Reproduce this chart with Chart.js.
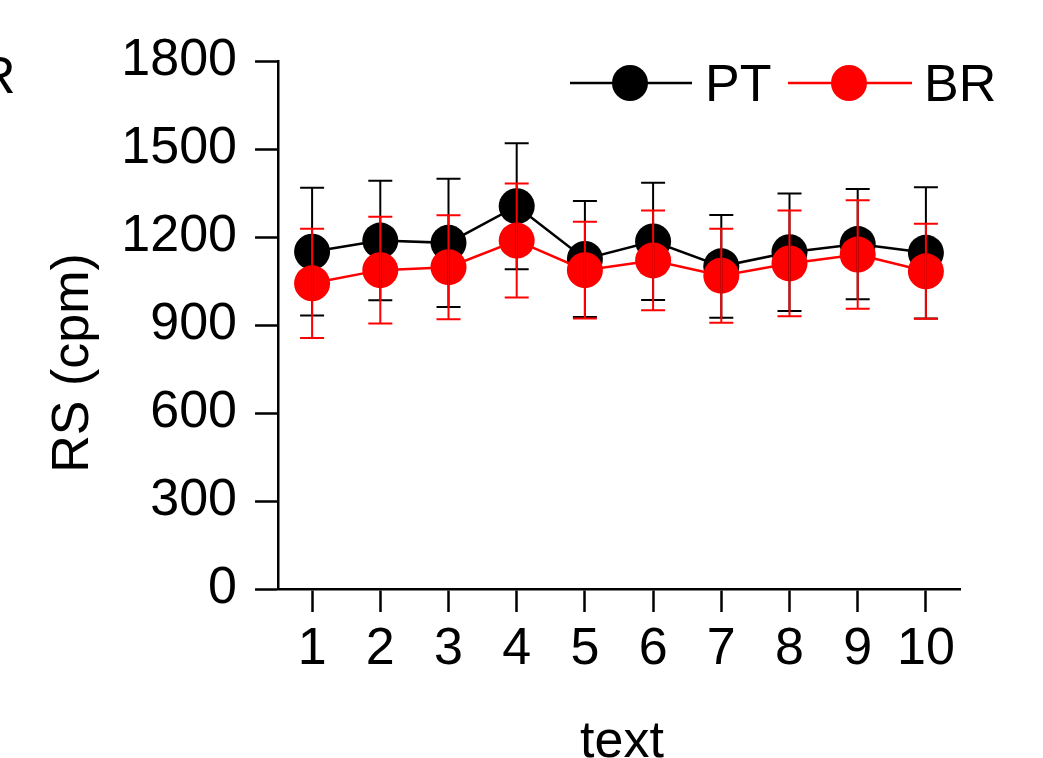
<!DOCTYPE html>
<html>
<head>
<meta charset="utf-8">
<script src="https://cdn.jsdelivr.net/npm/chart.js@4"></script>
<style>
  html, body { margin: 0; padding: 0; background: #fff; }
  #wrap { position: relative; width: 1043px; height: 758px; overflow: hidden; }
</style>
</head>
<body>
<div id="wrap"><canvas id="myChart" width="1043" height="758"></canvas></div>
<script>
const ctx = document.getElementById('myChart');

// x categories and y tick values
const categories = ['1', '2', '3', '4', '5', '6', '7', '8', '9', '10'];
const yTicks = [0, 300, 600, 900, 1200, 1500, 1800];

// PT series: mean and error
const ptMean = [1150, 1188, 1180, 1305, 1125, 1185, 1100, 1148, 1176, 1146];
const ptErr = [218, 204, 219, 215, 198, 200, 175, 200, 188, 224];

// BR series: mean and error
const brMean = [1042, 1087, 1097, 1188, 1087, 1120, 1068, 1110, 1140, 1083];
const brErr = [186, 182, 177, 194, 165, 170, 160, 180, 185, 162];

const FONT = '"Liberation Sans", Arial, sans-serif';
const FS = 52;

// error bars drawn from the y scale of the chart
const errorBars = {
    id: 'errorBars',
    afterDatasetsDraw(chart) {
        const c = chart.ctx;
        const y = chart.scales.y;
        chart.data.datasets.forEach(function(ds, i) {
            const meta = chart.getDatasetMeta(i);
            c.save();
            c.strokeStyle = ds.borderColor;
            c.lineWidth = 2;
            meta.data.forEach(function(pt, j) {
                const top = y.getPixelForValue(ds.data[j] + ds.errors[j]);
                const bot = y.getPixelForValue(ds.data[j] - ds.errors[j]);
                c.beginPath();
                c.moveTo(pt.x, top); c.lineTo(pt.x, bot);
                c.moveTo(pt.x - 12, top); c.lineTo(pt.x + 12, top);
                c.moveTo(pt.x - 12, bot); c.lineTo(pt.x + 12, bot);
                c.stroke();
            });
            c.restore();
        });
    }
};

// titles, legend and the stray letter from the neighbouring panel
const extras = {
    id: 'extras',
    afterDraw(chart) {
        const c = chart.ctx;
        c.save();
        c.fillStyle = '#000';
        c.font = FS + 'px ' + FONT;
        c.textBaseline = 'alphabetic';

        c.textAlign = 'left';
        c.fillText('R', -22, 93);

        c.textAlign = 'center';
        c.fillText('text', 622, 757);

        c.save();
        c.translate(88, 363);
        c.rotate(-Math.PI / 2);
        c.fillText('RS (cpm)', 0, 0);
        c.restore();

        // legend
        const items = [
            {ds: chart.data.datasets[0], x0: 570, x1: 692, cx: 630, tx: 705},
            {ds: chart.data.datasets[1], x0: 788, x1: 912, cx: 849, tx: 924}
        ];
        const ly = 83;
        items.forEach(function(it) {
            c.strokeStyle = it.ds.borderColor;
            c.lineWidth = 2.5;
            c.beginPath();
            c.moveTo(it.x0, ly); c.lineTo(it.x1, ly);
            c.stroke();
            c.fillStyle = it.ds.pointBackgroundColor;
            c.beginPath();
            c.arc(it.cx, ly, 18, 0, Math.PI * 2);
            c.fill();
            c.fillStyle = '#000';
            c.textAlign = 'left';
            c.fillText(it.ds.label, it.tx, 101);
        });
        c.restore();
    }
};

new Chart(ctx, {
    type: 'line',
    data: {
        labels: categories,
        datasets: [
            {
                label: 'PT',
                data: ptMean,
                errors: ptErr,
                borderColor: '#000000',
                backgroundColor: '#000000',
                pointBackgroundColor: '#000000',
                borderWidth: 2.5,
                pointRadius: 18,
                pointBorderWidth: 0,
                order: 1
            },
            {
                label: 'BR',
                data: brMean,
                errors: brErr,
                borderColor: '#ff0000',
                backgroundColor: '#ff0000',
                pointBackgroundColor: '#ff0000',
                borderWidth: 2.5,
                pointRadius: 18,
                pointBorderWidth: 0,
                order: 0
            }
        ]
    },
    options: {
        responsive: false,
        animation: false,
        layout: { padding: { left: 0, right: 83, top: 61, bottom: 0 } },
        plugins: {
            legend: { display: false },
            tooltip: { enabled: false }
        },
        scales: {
            x: {
                offset: true,
                afterFit: function(scale) { scale.height = 169; },
                border: { display: true, color: '#000', width: 2.5 },
                grid: {
                    drawOnChartArea: false,
                    drawTicks: true,
                    tickLength: 23,
                    tickColor: '#000',
                    tickWidth: 2.5
                },
                ticks: {
                    color: '#000',
                    font: { family: FONT, size: FS },
                    padding: 6,
                    maxRotation: 0,
                    autoSkip: false
                }
            },
            y: {
                min: 0,
                max: 1800,
                afterFit: function(scale) { scale.width = 278; },
                afterBuildTicks: function(scale) {
                    scale.ticks = yTicks.map(function(v) { return {value: v}; });
                },
                border: { display: true, color: '#000', width: 2.5 },
                grid: {
                    drawOnChartArea: false,
                    drawTicks: true,
                    tickLength: 23,
                    tickColor: '#000',
                    tickWidth: 2.5
                },
                ticks: {
                    color: '#000',
                    font: { family: FONT, size: FS },
                    padding: 18,
                    callback: function(v) { return String(v); }
                }
            }
        }
    },
    plugins: [errorBars, extras]
});
</script>
</body>
</html>
